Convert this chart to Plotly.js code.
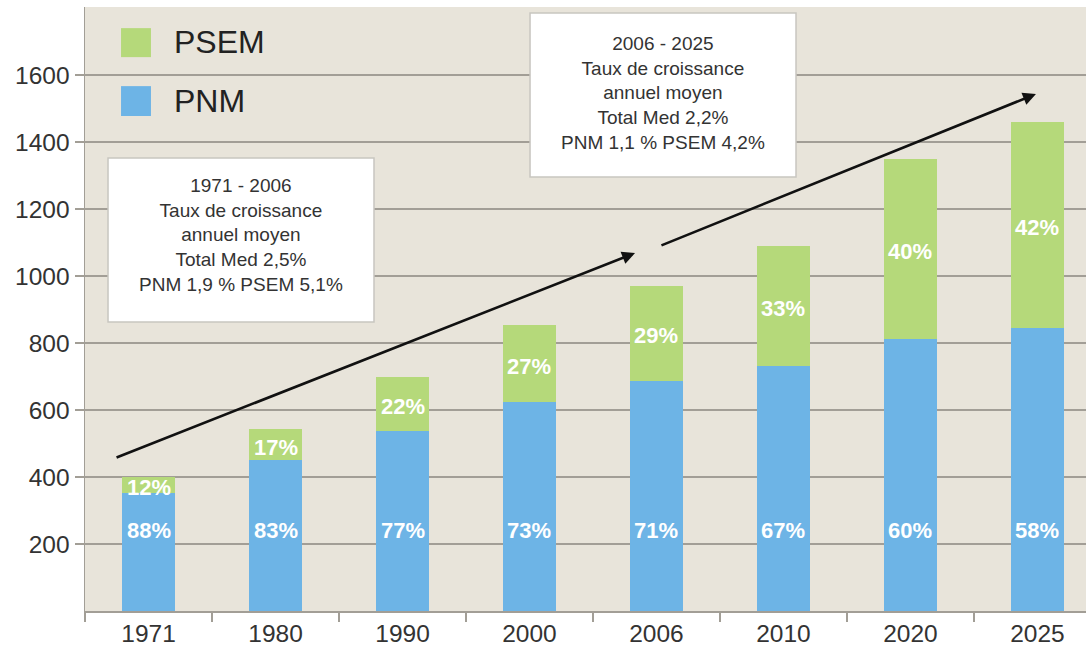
<!DOCTYPE html>
<html>
<head>
<meta charset="utf-8">
<script src="https://cdn.plot.ly/plotly-3.0.1.min.js"></script>
<style>html,body{margin:0;padding:0;background:#fff;}#chart{width:1086px;height:648px;}</style>
</head>
<body>
<div id="chart"></div>
<script>
var years = ['1971', '1980', '1990', '2000', '2006', '2010', '2020', '2025'];
var pnm  = [352, 451, 536, 623, 688, 731, 813, 845];
var psem = [48, 92, 162, 232, 283, 360, 537, 615];
var pnmPct  = ['88%', '83%', '77%', '73%', '71%', '67%', '60%', '58%'];
var psemPct = ['12%', '17%', '22%', '27%', '29%', '33%', '40%', '42%'];
var yTicks = [200, 400, 600, 800, 1000, 1200, 1400, 1600];
var box1Text = ['1971 - 2006', 'Taux de croissance', 'annuel moyen', 'Total Med 2,5%', 'PNM 1,9 % PSEM 5,1%'];
var box2Text = ['2006 - 2025', 'Taux de croissance', 'annuel moyen', 'Total Med 2,2%', 'PNM 1,1 % PSEM 4,2%'];

var BLUE = '#6db4e6', GREEN = '#b5d97a', BG = '#e8e4da', GRID = '#a29e96';
var FONT = '"Liberation Sans", Arial, sans-serif';

var traces = [
  {type: 'bar', name: 'PNM', x: years, y: pnm, marker: {color: BLUE}, hoverinfo: 'x+y'},
  {type: 'bar', name: 'PSEM', x: years, y: psem, marker: {color: GREEN}, hoverinfo: 'x+y'}
];

var annotations = [];
years.forEach(function (yr, i) {
  annotations.push({x: i, y: 240, xref: 'x', yref: 'y', text: '<b>' + pnmPct[i] + '</b>', showarrow: false,
    font: {family: FONT, size: 22, color: '#ffffff'}});
  annotations.push({x: i, y: pnm[i] + psem[i] / 2 - 8, xref: 'x', yref: 'y', text: '<b>' + psemPct[i] + '</b>', showarrow: false,
    font: {family: FONT, size: 22, color: '#ffffff'}});
});

// legend (manual, large squares)
annotations.push({xref: 'paper', yref: 'paper', x: 0.0869, y: 0.942, xanchor: 'left', yanchor: 'middle',
  text: 'PSEM', showarrow: false, font: {family: FONT, size: 32, color: '#222'}});
annotations.push({xref: 'paper', yref: 'paper', x: 0.0869, y: 0.844, xanchor: 'left', yanchor: 'middle',
  text: 'PNM', showarrow: false, font: {family: FONT, size: 32, color: '#222'}});

// text boxes
annotations.push({xref: 'paper', yref: 'paper', x: 0.156, y: 0.6225, xanchor: 'center', yanchor: 'middle',
  text: box1Text.join('<br>'), showarrow: false, align: 'center', font: {family: FONT, size: 19, color: '#333'}});
annotations.push({xref: 'paper', yref: 'paper', x: 0.5774, y: 0.8576, xanchor: 'center', yanchor: 'middle',
  text: box2Text.join('<br>'), showarrow: false, align: 'center', font: {family: FONT, size: 19, color: '#333'}});

// arrows
annotations.push({xref: 'paper', yref: 'paper', x: 0.5495, y: 0.5927, ax: -520, ay: 205, text: '',
  showarrow: true, arrowhead: 2, arrowsize: 1, arrowwidth: 2.6, arrowcolor: '#111'});
annotations.push({xref: 'paper', yref: 'paper', x: 0.95, y: 0.856, ax: -376, ay: 152, text: '',
  showarrow: true, arrowhead: 2, arrowsize: 1, arrowwidth: 2.6, arrowcolor: '#111'});

var shapes = [
  {type: 'rect', xref: 'paper', yref: 'paper', x0: 0.036, x1: 0.0659, y0: 0.917, y1: 0.965,
    fillcolor: GREEN, line: {width: 0}},
  {type: 'rect', xref: 'paper', yref: 'paper', x0: 0.036, x1: 0.0659, y0: 0.8195, y1: 0.869,
    fillcolor: BLUE, line: {width: 0}},
  {type: 'rect', xref: 'paper', yref: 'paper', x0: 0.023, x1: 0.2887, y0: 0.4785, y1: 0.75,
    fillcolor: '#ffffff', line: {color: '#c8c6c0', width: 1.5}},
  {type: 'rect', xref: 'paper', yref: 'paper', x0: 0.4446, x1: 0.7103, y0: 0.7185, y1: 0.99,
    fillcolor: '#ffffff', line: {color: '#c8c6c0', width: 1.5}}
];

var layout = {
  width: 1086, height: 648,
  margin: {l: 85, r: 0, t: 7, b: 37, pad: 0},
  paper_bgcolor: '#ffffff',
  plot_bgcolor: BG,
  barmode: 'stack',
  bargap: 0.59,
  showlegend: false,
  font: {family: FONT, color: '#333'},
  xaxis: {
    type: 'category', range: [-0.5, 7.382], showgrid: false,
    showline: true, linecolor: GRID, linewidth: 1.5,
    ticks: 'outside', tickson: 'boundaries', ticklen: 9, tickcolor: GRID, tickwidth: 1.5,
    tickfont: {family: FONT, size: 24.5, color: '#333'}, fixedrange: true
  },
  yaxis: {
    range: [0, 1803], tickvals: yTicks, ticktext: yTicks.map(String),
    showgrid: true, gridcolor: GRID, gridwidth: 1.5,
    showline: true, linecolor: GRID, linewidth: 1.5,
    ticks: 'outside', ticklen: 9, tickcolor: GRID, tickwidth: 1.5,
    tickfont: {family: FONT, size: 24.5, color: '#333'}, zeroline: false, fixedrange: true
  },
  annotations: annotations,
  shapes: shapes
};

Plotly.newPlot('chart', traces, layout, {displayModeBar: false, staticPlot: true});
</script>
</body>
</html>
